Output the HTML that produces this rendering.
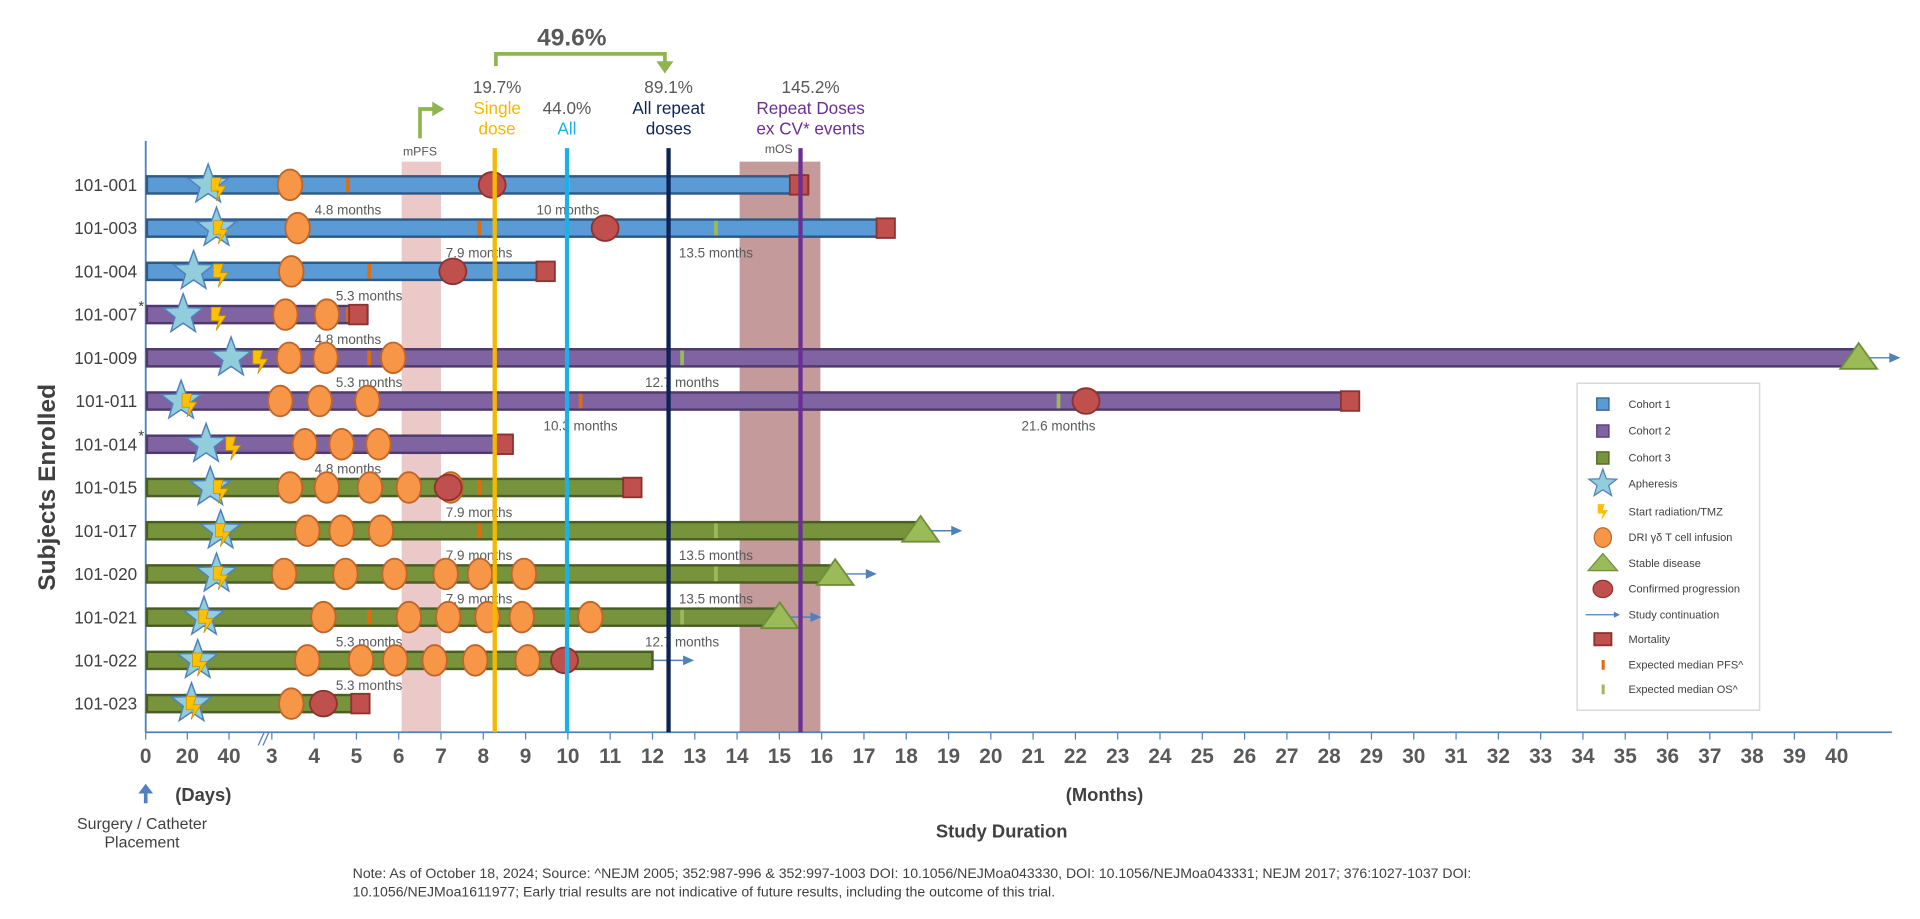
<!DOCTYPE html>
<html><head><meta charset="utf-8"><style>
html,body{margin:0;padding:0;background:#fff;}
svg{display:block;font-family:"Liberation Sans",sans-serif;}
</style></head><body>
<svg id="chart" width="1920" height="919" viewBox="0 0 1568 750.5" preserveAspectRatio="none" xmlns="http://www.w3.org/2000/svg"></svg>
<script>
const subjects=["101-001","101-003","101-004","101-007","101-009","101-011","101-014","101-015","101-017","101-020","101-021","101-022","101-023"];
const cohort=[1,1,1,2,2,2,2,3,3,3,3,3,3];
const asterisk=[0,0,0,1,0,0,1,0,0,0,0,0,0];
const barEnd=[15.68,17.71,9.66,5.26,40.52,28.7,8.67,11.71,18.34,16.32,15.01,12.0,5.26];
const apheresisDay=[30,34,23,18,41,17,29,31,36,34,28,25,22];
const radiationDay=[35,36,36,35,55,21,42,36,37,36,29,26,23];
const infusions=[[3.43],[3.61],[3.46],[3.32,4.30],[3.41,4.27,5.87],[3.20,4.13,5.26],[3.78,4.65,5.52],[3.43,4.30,5.32,6.24,7.23],[3.84,4.65,5.58],[3.29,4.74,5.90,7.11,7.92,8.96],[4.22,6.24,7.17,8.10,8.91,10.53],[3.84,5.11,5.92,6.85,7.81,9.05],[3.46]];
const progression=[8.21,10.88,7.28,null,null,22.25,null,7.17,null,null,null,9.92,4.22];
const mortality=[15.45,17.5,9.46,5.03,null,28.48,8.47,11.51,null,null,null,null,5.08];
const stable=[null,null,null,null,40.52,null,null,null,18.34,16.32,15.01,null,null];
const continuation=[0,0,0,0,1,0,0,0,1,1,1,1,0];
const pfs=[4.8,7.9,5.3,4.8,5.3,10.3,4.8,7.9,7.9,7.9,5.3,5.3,null];
const os=[10,13.5,null,null,12.7,21.6,null,null,13.5,13.5,12.7,null,null];
const dayTicks=[0,20,40];
const monthTicks=[3,4,5,6,7,8,9,10,11,12,13,14,15,16,17,18,19,20,21,22,23,24,25,26,27,28,29,30,31,32,33,34,35,36,37,38,39,40];
const refLines=[8.27,9.98,12.38,15.5];
const mpfsBand=[6.07,7.0];
const mosBand=[14.06,15.97];

const svg=document.getElementById('chart');
const NS='http://www.w3.org/2000/svg';
function xd(d){return 119+d*1.7;}
function xm(m){return 222+(m-3)*34.54;}
function yr(i){return 151+i*35.3;}
function mk(tag,attrs,parent){const e=document.createElementNS(NS,tag);for(const k in attrs)e.setAttribute(k,attrs[k]);(parent||svg).appendChild(e);return e;}
function txt(s,attrs){const e=mk('text',attrs);e.textContent=s;return e;}
const cFill={1:'#5b9bd5',2:'#8064a2',3:'#77933c'};
const cStroke={1:'#2e5a87',2:'#4f3a6e',3:'#4a5e24'};
function starPts(cx,cy,R,r){let p=[];for(let k=0;k<10;k++){const a=-Math.PI/2+k*Math.PI/5;const rr=k%2?r:R;p.push((cx+rr*Math.cos(a)).toFixed(1)+','+(cy+rr*Math.sin(a)).toFixed(1));}return p.join(' ');}
function bolt(cx,cy,s){return `M${cx-6*s},${cy-9*s} L${cx+2*s},${cy-9*s} L${cx},${cy-2*s} L${cx+6*s},${cy-2*s} L${cx-2*s},${cy+10*s} L${cx},${cy+2*s} L${cx-6*s},${cy+2*s} Z`;}

let e=mk('rect',{x:xm(mpfsBand[0]),y:132,width:xm(mpfsBand[1])-xm(mpfsBand[0]),height:466,fill:'#ecc9c9'});

e=mk('rect',{x:xm(mosBand[0]),y:132,width:xm(mosBand[1])-xm(mosBand[0]),height:466,fill:'#c49a9a'});

e=txt('mPFS',{x:343,y:127,'font-size':10,fill:'#555','text-anchor':'middle'});

e=txt('mOS',{x:636,y:125,'font-size':10,fill:'#555','text-anchor':'middle'});


e=mk('line',{x1:119,y1:115,x2:119,y2:598,stroke:'#4f81bd','stroke-width':1.5});

e=mk('line',{x1:119,y1:598,x2:1545,y2:598,stroke:'#4f81bd','stroke-width':1.5});

dayTicks.forEach(d=>{
  const t=mk('line',{x1:xd(d),y1:598,x2:xd(d),y2:604,stroke:'#4f81bd'});
  
  const l=txt(String(d),{x:xd(d),y:623,'font-size':17,'font-weight':'bold',fill:'#595959','text-anchor':'middle'});
  
});
monthTicks.forEach(m=>{
  const t=mk('line',{x1:xm(m),y1:598,x2:xm(m),y2:604,stroke:'#4f81bd'});
  
  const l=txt(String(m),{x:xm(m),y:623,'font-size':17,'font-weight':'bold',fill:'#595959','text-anchor':'middle'});
  
});
e=txt('//',{x:215,y:609,'font-size':14,fill:'#4f81bd','text-anchor':'middle','font-style':'italic'});


subjects.forEach((s,i)=>{
  const y=yr(i),c=cohort[i];
  let l=txt(s,{x:112,y:y+5,'font-size':14,fill:'#404040','text-anchor':'end'});
  
  if(asterisk[i]){let a=txt('*',{x:113,y:y-3,'font-size':12,fill:'#404040'});}
  if(continuation[i]){
    const x0=xm(barEnd[i]);
    let a=mk('line',{x1:x0,y1:y,x2:x0+26,y2:y,stroke:'#4f81bd','stroke-width':1.2});
    
    let h=mk('polygon',{points:`${x0+34},${y} ${x0+25},${y-4} ${x0+25},${y+4}`,fill:'#4f81bd'});
    
  }
  let b=mk('rect',{x:120,y:y-7,width:xm(barEnd[i])-120,height:14,fill:cFill[c],stroke:cStroke[c],'stroke-width':2});
  
  if(pfs[i]!=null){
    let t=mk('rect',{x:xm(pfs[i])-1.5,y:y-6,width:3,height:12,fill:'#e36c0a'});
    
    let tl=txt(pfs[i]+' months',{x:xm(pfs[i]),y:y+24,'font-size':11,fill:'#595959','text-anchor':'middle'});
    
  }
  if(os[i]!=null){
    let t=mk('rect',{x:xm(os[i])-1.5,y:y-6,width:3,height:12,fill:'#9bbb59'});
    
    let tl=txt(os[i]+' months',{x:xm(os[i]),y:y+24,'font-size':11,fill:'#595959','text-anchor':'middle'});
    
  }
  let st=mk('polygon',{points:starPts(xd(apheresisDay[i]),y,17,7),fill:'#92cddc',stroke:'#4f81bd','stroke-width':1.2});
  
  let bo=mk('path',{d:bolt(xd(radiationDay[i]),y+3,1),fill:'#ffc000',stroke:'#c09000','stroke-width':0.6});
  
  infusions[i].forEach(m=>{
    let el=mk('ellipse',{cx:xm(m),cy:y,rx:10,ry:12.5,fill:'#f79646',stroke:'#c0652a','stroke-width':1.5});
    
  });
  if(progression[i]!=null){
    let p=mk('ellipse',{cx:xm(progression[i]),cy:y,rx:11,ry:10.5,fill:'#c0504d',stroke:'#8c3330','stroke-width':1.5});
    
  }
  if(mortality[i]!=null){
    let q=mk('rect',{x:xm(mortality[i])-7,y:y-8,width:15,height:16,fill:'#c0504d',stroke:'#8c3330','stroke-width':1.5});
    
  }
  if(stable[i]!=null){
    const x=xm(stable[i]);
    let tr=mk('polygon',{points:`${x},${y-12} ${x+15},${y+9} ${x-15},${y+9}`,fill:'#9bbb59',stroke:'#6f8f3a','stroke-width':1.5});
    
  }
});

const refColors=['#f5b800','#1ab0e8','#0c2356','#6b2f94'];
const refNames=['single-dose-line','all-line','all-repeat-doses-line','repeat-doses-ex-cv-line'];
refLines.forEach((m,k)=>{
  let l=mk('line',{x1:xm(m),y1:121,x2:xm(m),y2:598,stroke:refColors[k],'stroke-width':3.5});
  
});

function ann(s,x,y,col,name,fs,fw){let t=txt(s,{x:x,y:y,'font-size':fs||14,fill:col,'text-anchor':'middle','font-weight':fw||'normal'});}
ann('49.6%',467,37,'#595959','improvement-label',20,'bold');
e=mk('path',{d:'M405,54 L405,44 L543,44 L543,52',fill:'none',stroke:'#8fb553','stroke-width':3});

e=mk('polygon',{points:'536,50 550,50 543,60',fill:'#8fb553'});

e=mk('path',{d:'M343,113 L343,89 L354,89',fill:'none',stroke:'#8fb553','stroke-width':3});

e=mk('polygon',{points:'353,83 363,89 353,95',fill:'#8fb553'});

ann('19.7%',406,76,'#595959','single-dose-pct');
ann('Single',406,93,'#f5b800','single-dose-label');
ann('dose',406,110,'#f5b800','single-dose-label');
ann('44.0%',463,93,'#595959','all-pct');
ann('All',463,110,'#1ab0e8','all-label');
ann('89.1%',546,76,'#595959','all-repeat-pct');
ann('All repeat',546,93,'#0c2356','all-repeat-label');
ann('doses',546,110,'#0c2356','all-repeat-label');
ann('145.2%',662,76,'#595959','repeat-ex-cv-pct');
ann('Repeat Doses',662,93,'#6b2f94','repeat-ex-cv-label');
ann('ex CV* events',662,110,'#6b2f94','repeat-ex-cv-label');

ann('(Days)',166,654,'#404040','days-axis-title',15,'bold');
ann('(Months)',902,654,'#404040','months-axis-title',15,'bold');
ann('Study Duration',818,684,'#404040','x-axis-title',15,'bold');
e=mk('line',{x1:119,y1:656,x2:119,y2:647,stroke:'#4f81bd','stroke-width':3});

e=mk('polygon',{points:'113,648 125,648 119,640',fill:'#4f81bd'});

ann('Surgery / Catheter',116,677,'#404040','surgery-label',13);
ann('Placement',116,692,'#404040','surgery-label',13);
e=txt('Subjects Enrolled',{x:0,y:0,'font-size':20,'font-weight':'bold',fill:'#404040','text-anchor':'middle',transform:'translate(45,398) rotate(-90)'});

e=txt('Note: As of October 18, 2024; Source:  ^NEJM 2005; 352:987-996 & 352:997-1003 DOI: 10.1056/NEJMoa043330, DOI: 10.1056/NEJMoa043331; NEJM 2017; 376:1027-1037 DOI:',{x:288,y:717,'font-size':11.5,fill:'#404040'});

e=txt('10.1056/NEJMoa1611977; Early trial results are not indicative of future results, including the outcome of this trial.',{x:288,y:732,'font-size':11.5,fill:'#404040'});


const lg=mk('g',{});

mk('rect',{x:1288,y:313,width:149,height:267,fill:'#fff',stroke:'#d9d9d9','stroke-width':1.2},lg);
const legLabels=['Cohort 1','Cohort 2','Cohort 3','Apheresis','Start radiation/TMZ','DRI γδ T cell infusion','Stable disease','Confirmed progression','Study continuation','Mortality','Expected median PFS^','Expected median OS^'];
const legY=[330,352,374,395,418,439,460,481,502,522,543,563];
legLabels.forEach((s,k)=>{
  const g=mk('g',{},lg);
  
  const y=legY[k],x=1309;
  if(k<3)mk('rect',{x:x-5,y:y-5,width:10,height:10,fill:cFill[k+1],stroke:cStroke[k+1]},g);
  else if(k==3)mk('polygon',{points:starPts(x,y,12,5),fill:'#92cddc',stroke:'#4f81bd'},g);
  else if(k==4)mk('path',{d:bolt(x,y,0.7),fill:'#ffc000'},g);
  else if(k==5)mk('ellipse',{cx:x,cy:y,rx:7,ry:8,fill:'#f79646',stroke:'#c0652a'},g);
  else if(k==6)mk('polygon',{points:`${x},${y-8} ${x+12},${y+6} ${x-12},${y+6}`,fill:'#9bbb59',stroke:'#6f8f3a'},g);
  else if(k==7)mk('ellipse',{cx:x,cy:y,rx:8,ry:7,fill:'#c0504d',stroke:'#8c3330'},g);
  else if(k==8){mk('line',{x1:x-14,y1:y,x2:x+10,y2:y,stroke:'#4f81bd'},g);mk('polygon',{points:`${x+14},${y} ${x+9},${y-2.5} ${x+9},${y+2.5}`,fill:'#4f81bd'},g);}
  else if(k==9)mk('rect',{x:x-7,y:y-5,width:14,height:10,fill:'#c0504d',stroke:'#8c3330','stroke-width':1.5},g);
  else if(k==10)mk('rect',{x:x-1,y:y-4,width:2.5,height:8,fill:'#e36c0a'},g);
  else mk('rect',{x:x-1,y:y-4,width:2.5,height:8,fill:'#9bbb59'},g);
  const t=mk('text',{x:1330,y:y+3,'font-size':9,fill:'#404040'},g);t.textContent=s;
});
</script>
</body></html>
